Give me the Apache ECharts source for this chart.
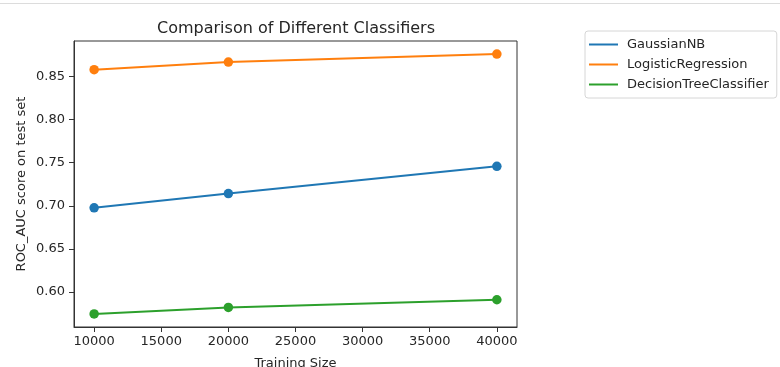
<!DOCTYPE html>
<html>
<head>
<meta charset="utf-8">
<script src="https://cdn.jsdelivr.net/npm/echarts@6/dist/echarts.min.js"></script>
<style>html,body{margin:0;padding:0;background:#fff;}#c{width:780px;height:367px;}</style>
</head>
<body>
<div id="c"></div>
<script>
const trainingSizes = [10000, 20000, 40000];
const gaussianNB = [0.6976, 0.7142, 0.7457];
const logisticRegression = [0.8577, 0.8666, 0.8759];
const decisionTree = [0.5746, 0.5822, 0.5911];
const seriesNames = ['GaussianNB', 'LogisticRegression', 'DecisionTreeClassifier'];
const xTicks = [10000, 15000, 20000, 25000, 30000, 35000, 40000];
const yTicks = [0.60, 0.65, 0.70, 0.75, 0.80, 0.85];

const colors = ['#1f77b4', '#ff7f0e', '#2ca02c'];
const font = 'DejaVu Sans';
const txt = '#262626';
const pair = arr => trainingSizes.map((x, i) => [x, arr[i]]);

const chart = echarts.init(document.getElementById('c'), null, {renderer: 'canvas'});
const mk = (name, data, color) => ({
  name, type: 'line', data: pair(data),
  symbol: 'circle', symbolSize: 9.5, showSymbol: true,
  lineStyle: {color, width: 2}, itemStyle: {color},
  emphasis: {disabled: true}, animation: false
});
chart.setOption({
  animation: false,
  backgroundColor: '#fff',
  title: {
    text: 'Comparison of Different Classifiers',
    left: 296, top: 21, textAlign: 'center', padding: 0,
    textStyle: {fontFamily: font, fontSize: 16, fontWeight: 'normal', color: txt}
  },
  legend: {
    orient: 'vertical', left: 585, top: 31,
    data: seriesNames.map(n => ({name: n, icon: 'rect'})),
    itemWidth: 29, itemHeight: 2, itemGap: 5,
    padding: [6, 8, 6, 4],
    borderColor: '#d6d6d6', borderWidth: 1, borderRadius: 3,
    textStyle: {fontFamily: font, fontSize: 13, color: txt, lineHeight: 15, padding: [0, 0, 0, 4]},
    selectedMode: false
  },
  grid: {left: 74, right: 263, top: 41, bottom: 40, show: true, borderColor: '#333', borderWidth: 1, backgroundColor: 'transparent', outerBoundsMode: 'none', containLabel: false},
  xAxis: {
    type: 'value', min: 8500, max: 41500,
    name: 'Training Size', nameLocation: 'middle', nameGap: 30, nameMoveOverlap: false,
    nameTextStyle: {fontFamily: font, fontSize: 13, color: txt},
    axisLine: {show: true, lineStyle: {color: '#333', width: 1}},
    axisTick: {show: true, inside: false, length: 5, lineStyle: {color: '#333'}, customValues: xTicks},
    axisLabel: {fontFamily: font, fontSize: 13, color: txt, margin: 8, customValues: xTicks, formatter: v => String(v)},
    splitLine: {show: false}
  },
  yAxis: {
    type: 'value', min: 0.5595, max: 0.891,
    name: 'ROC_AUC score on test set', nameLocation: 'middle', nameGap: 46, nameMoveOverlap: false,
    nameTextStyle: {fontFamily: font, fontSize: 13, color: txt},
    axisLine: {show: true, lineStyle: {color: '#333', width: 1}},
    axisTick: {show: true, inside: false, length: 5, lineStyle: {color: '#333'}, customValues: yTicks},
    axisLabel: {fontFamily: font, fontSize: 13, color: txt, margin: 9, customValues: yTicks, formatter: v => v.toFixed(2)},
    splitLine: {show: false}
  },
  graphic: [{
    type: 'line', shape: {x1: 0, y1: 3.5, x2: 780, y2: 3.5},
    style: {stroke: '#dcdcdc', lineWidth: 1}, silent: true
  }],
  series: [
    mk(seriesNames[0], gaussianNB, colors[0]),
    mk(seriesNames[1], logisticRegression, colors[1]),
    mk(seriesNames[2], decisionTree, colors[2])
  ]
});
</script>
</body>
</html>
